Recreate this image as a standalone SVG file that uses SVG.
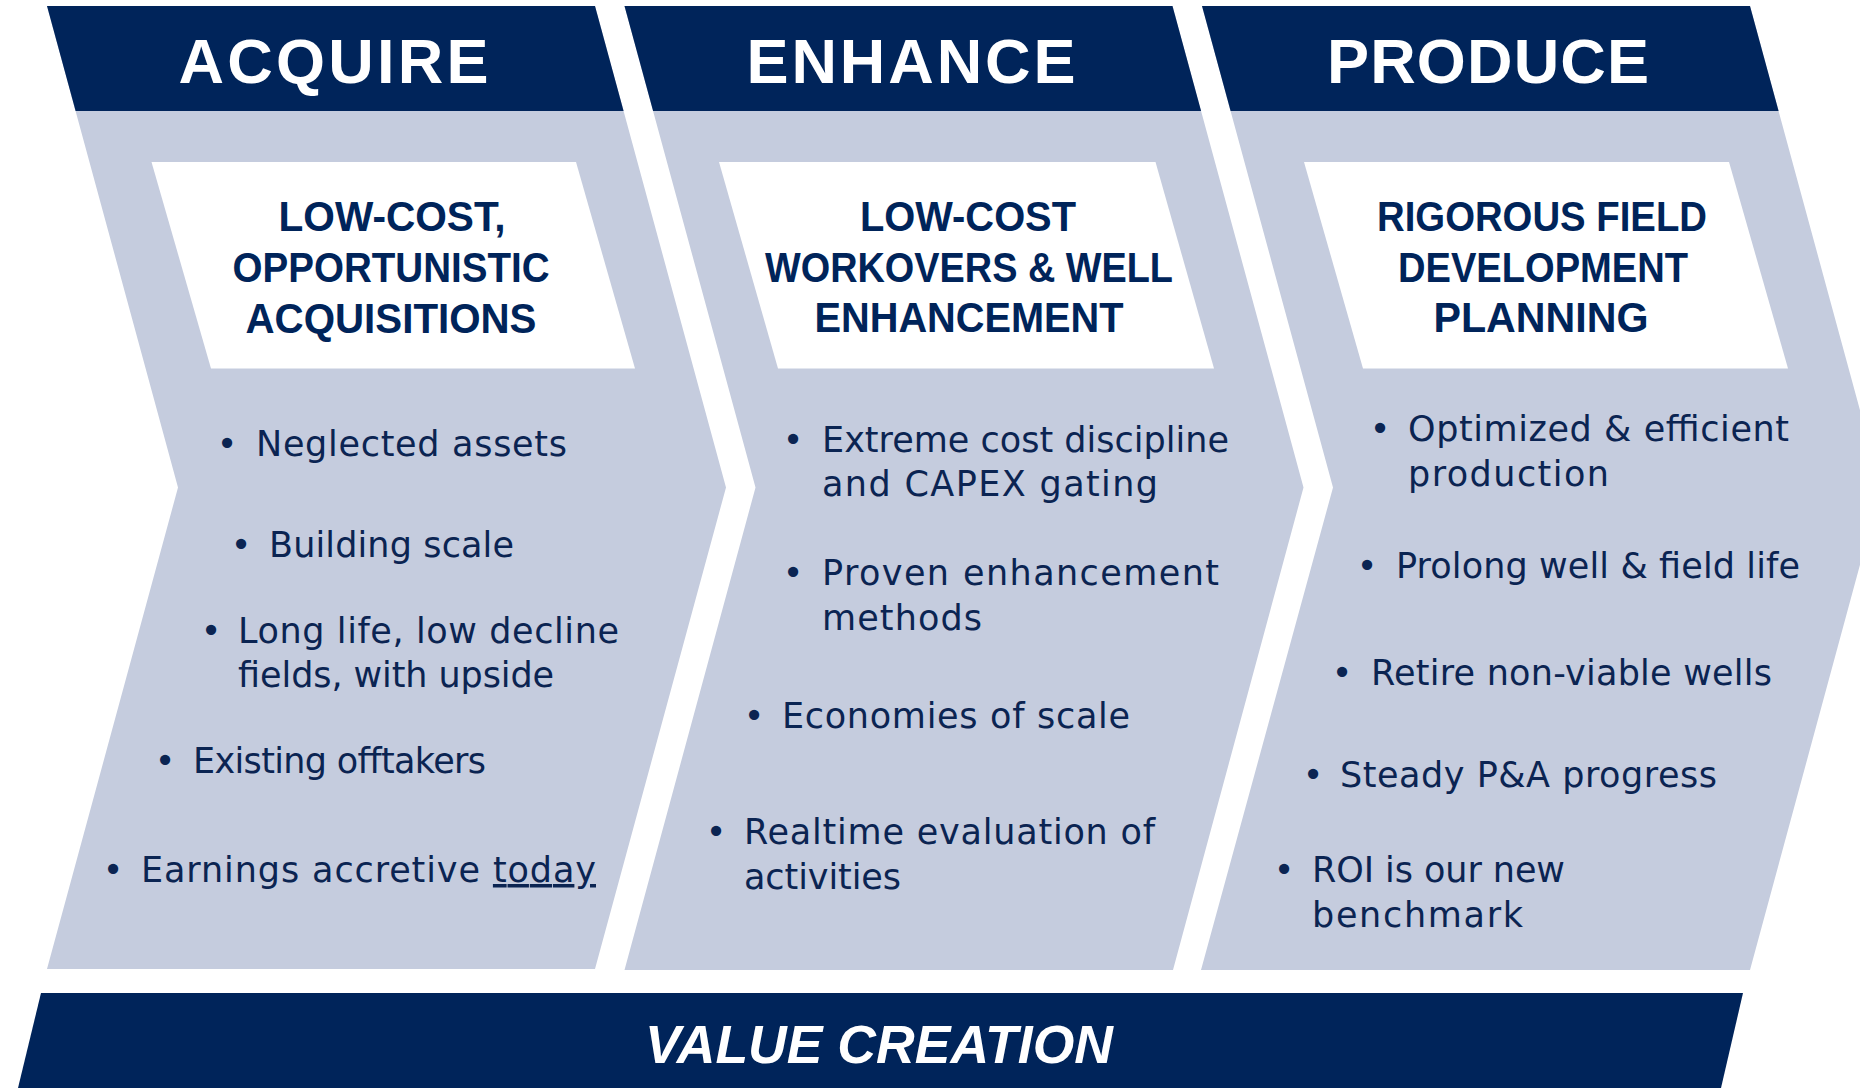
<svg xmlns="http://www.w3.org/2000/svg" width="1860" height="1088" viewBox="0 0 1860 1088">
<style>
.panel{fill:#C5CCDE}
.band{fill:#00245A}
.box{fill:#FFFFFF}
.hdr{font-family:"Liberation Sans",Arial,sans-serif;font-weight:bold;font-size:63px;fill:#FFFFFF;text-anchor:middle}
.sub{font-family:"Liberation Sans",Arial,sans-serif;font-weight:bold;font-size:42px;fill:#00245A;text-anchor:middle}
.bt{font-family:"DejaVu Sans","Liberation Sans",sans-serif;font-size:35px;fill:#0B2452}
.dot{font-family:"DejaVu Sans","Liberation Sans",sans-serif;font-size:35px;fill:#0B2452;text-anchor:middle}
.vc{font-family:"Liberation Sans",Arial,sans-serif;font-weight:bold;font-style:italic;font-size:53px;fill:#FFFFFF;text-anchor:middle}
</style>
<rect width="1860" height="1088" fill="#FFFFFF"/>

<g id="acquire">
  <path class="panel" d="M47,6 L595,6 L726,487.5 L595,969 L47,969 L178,487.5 Z"/>
  <path class="band" d="M47,6 L595,6 L623.6,111 L75.6,111 Z"/>
  <text class="hdr" x="333.5" y="83" textLength="310" lengthAdjust="spacing">ACQUIRE</text>
  <path class="box" d="M151.5,162 L576,162 L635,368.5 L211,368.5 Z"/>
  <text class="sub" x="392" y="231" textLength="227" lengthAdjust="spacingAndGlyphs">LOW-COST,</text>
  <text class="sub" x="391" y="282" textLength="317" lengthAdjust="spacingAndGlyphs">OPPORTUNISTIC</text>
  <text class="sub" x="391" y="333" textLength="291" lengthAdjust="spacingAndGlyphs">ACQUISITIONS</text>
  <text class="dot" x="227" y="456">•</text>
  <text class="bt" x="256" y="456" textLength="311">Neglected assets</text>
  <text class="dot" x="241" y="557">•</text>
  <text class="bt" x="269" y="557" textLength="245">Building scale</text>
  <text class="dot" x="211" y="643">•</text>
  <text class="bt" x="238" y="643" textLength="381">Long life, low decline</text>
  <text class="bt" x="238" y="687" textLength="316">fields, with upside</text>
  <text class="dot" x="165" y="773">•</text>
  <text class="bt" x="193" y="773" textLength="293">Existing offtakers</text>
  <text class="dot" x="113" y="882">•</text>
  <text class="bt" x="141" y="882" textLength="455">Earnings accretive <tspan text-decoration="underline">today</tspan></text>
</g>

<g id="enhance">
  <path class="panel" d="M624.5,6 L1172.5,6 L1303.5,487.5 L1173,970 L624.5,970 L755.5,487.5 Z"/>
  <path class="band" d="M624.5,6 L1172.5,6 L1201.1,111 L653.1,111 Z"/>
  <text class="hdr" x="911" y="83" textLength="329" lengthAdjust="spacing">ENHANCE</text>
  <path class="box" d="M719,162 L1155.5,162 L1214,368.5 L778,368.5 Z"/>
  <text class="sub" x="968" y="231" textLength="216" lengthAdjust="spacingAndGlyphs">LOW-COST</text>
  <text class="sub" x="969" y="282" textLength="408" lengthAdjust="spacingAndGlyphs">WORKOVERS &amp; WELL</text>
  <text class="sub" x="969" y="332" textLength="309" lengthAdjust="spacingAndGlyphs">ENHANCEMENT</text>
  <text class="dot" x="793" y="452">•</text>
  <text class="bt" x="822" y="452" textLength="407">Extreme cost discipline</text>
  <text class="bt" x="822" y="496" textLength="336">and CAPEX gating</text>
  <text class="dot" x="793" y="585">•</text>
  <text class="bt" x="822" y="585" textLength="397">Proven enhancement</text>
  <text class="bt" x="822" y="630" textLength="160">methods</text>
  <text class="dot" x="754" y="728">•</text>
  <text class="bt" x="782" y="728" textLength="348">Economies of scale</text>
  <text class="dot" x="716" y="844">•</text>
  <text class="bt" x="744" y="844" textLength="411">Realtime evaluation of</text>
  <text class="bt" x="744" y="889" textLength="157">activities</text>
</g>

<g id="produce">
  <path class="panel" d="M1202,6 L1750,6 L1881,487.5 L1750,970 L1201,970 L1333,487.5 Z"/>
  <path class="band" d="M1202,6 L1750,6 L1778.6,111 L1230.6,111 Z"/>
  <text class="hdr" x="1488" y="83" textLength="322" lengthAdjust="spacing">PRODUCE</text>
  <path class="box" d="M1304,162 L1729,162 L1788,368.5 L1363,368.5 Z"/>
  <text class="sub" x="1542" y="231" textLength="330" lengthAdjust="spacingAndGlyphs">RIGOROUS FIELD</text>
  <text class="sub" x="1543" y="282" textLength="290" lengthAdjust="spacingAndGlyphs">DEVELOPMENT</text>
  <text class="sub" x="1541" y="332" textLength="215" lengthAdjust="spacingAndGlyphs">PLANNING</text>
  <text class="dot" x="1380" y="441">•</text>
  <text class="bt" x="1408" y="441" textLength="381">Optimized &amp; efficient</text>
  <text class="bt" x="1408" y="486" textLength="201">production</text>
  <text class="dot" x="1367" y="578">•</text>
  <text class="bt" x="1396" y="578" textLength="404">Prolong well &amp; field life</text>
  <text class="dot" x="1342" y="685">•</text>
  <text class="bt" x="1371" y="685" textLength="401">Retire non-viable wells</text>
  <text class="dot" x="1313" y="787">•</text>
  <text class="bt" x="1340" y="787" textLength="377">Steady P&amp;A progress</text>
  <text class="dot" x="1284" y="882">•</text>
  <text class="bt" x="1312" y="882" textLength="253">ROI is our new</text>
  <text class="bt" x="1312" y="927" textLength="211">benchmark</text>
</g>

<g id="value-creation">
  <path class="band" d="M41,993 L1743,993 L1721,1088 L18,1088 Z"/>
  <text class="vc" x="879" y="1063" textLength="468" lengthAdjust="spacingAndGlyphs">VALUE CREATION</text>
</g>

<g id="connectors"></g>
</svg>
